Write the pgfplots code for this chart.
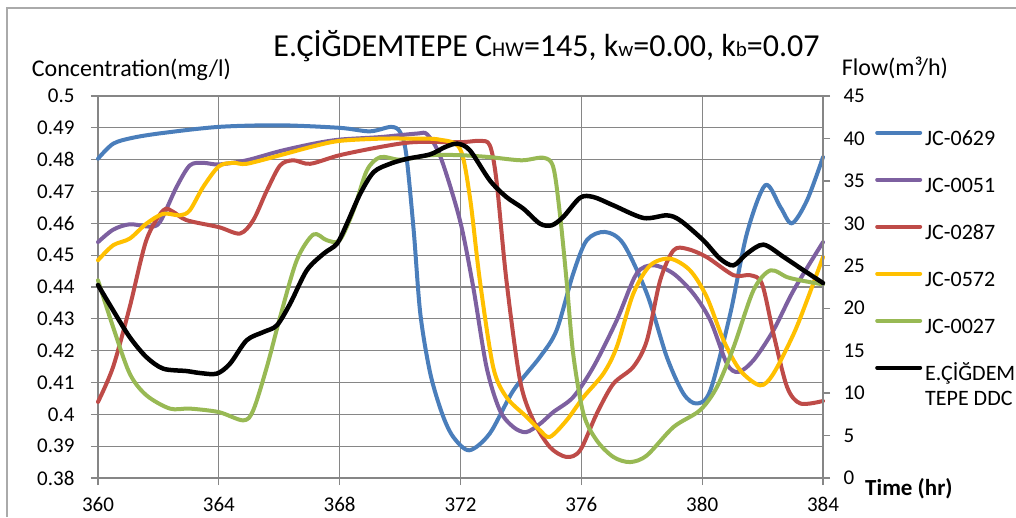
\documentclass[border=0pt]{standalone}
\usepackage{pgfplots}
\pgfplotsset{compat=1.18}
\usepackage{fontspec}
\setmainfont{Carlito}
\definecolor{cBlue}{RGB}{74,126,187}
\definecolor{cPurple}{RGB}{125,96,160}
\definecolor{cRed}{RGB}{190,75,72}
\definecolor{cYellow}{RGB}{255,192,0}
\definecolor{cGreen}{RGB}{152,185,84}
\definecolor{cGrid}{RGB}{134,134,134}
\definecolor{cFrame}{RGB}{170,170,170}
\begin{document}
\begin{tikzpicture}
\useasboundingbox (0pt,0pt) rectangle (1016pt,517pt);
\draw[cFrame, line width=1.2pt] (7pt,0pt) -- (7pt,509pt) -- (1016pt,509pt);
\node[anchor=base, font=\fontsize{32}{32}\selectfont, inner sep=0pt] at (546.5pt,460.3pt)
  {E.ÇİĞDEMTEPE C{\fontsize{21}{21}\selectfont HW}=145, k{\fontsize{21}{21}\selectfont w}=0.00, k{\fontsize{21}{21}\selectfont b}=0.07};
\node[anchor=base west, font=\fontsize{24}{24}\selectfont, inner sep=0pt] at (31.7pt,440pt) {Concentration(mg/l)};
\node[anchor=base west, font=\fontsize{24}{24}\selectfont, inner sep=0pt] at (841.7pt,441pt) {Flow(m³/h)};
\node[anchor=base west, font=\bfseries\fontsize{23}{23}\selectfont, inner sep=0pt] at (865pt,22pt) {Time (hr)};
\begin{axis}[
  at={(98pt,39pt)}, anchor=south west, scale only axis,
  width=725pt, height=382pt,
  xmin=360, xmax=384, ymin=0.38, ymax=0.5,
  xtick={360,364,368,372,376,380,384},
  xticklabels={360,364,368,372,376,380,384},
  ytick={0.38,0.39,0.4,0.41,0.42,0.43,0.44,0.45,0.46,0.47,0.48,0.49,0.5},
  yticklabels={0.38,0.39,0.4,0.41,0.42,0.43,0.44,0.45,0.46,0.47,0.48,0.49,0.5},
  grid=major, grid style={cGrid, line width=1.3pt},
  axis line style={cGrid, line width=1.3pt},
  tick style={cGrid, line width=1.3pt},
  tick align=outside, major tick length=7pt,
  axis y line*=left, axis x line*=bottom,
  tick label style={font=\fontsize{21}{21}\selectfont, text=black},
  yticklabel style={xshift=-13pt},
  xticklabel style={yshift=-9pt},
  clip=false,
  every axis plot/.append style={line width=4pt, smooth, line cap=round, line join=round},
]
\addplot[cBlue] coordinates {(360,0.4803) (360.5,0.485) (361.16,0.4869) (362.16,0.4884) (364,0.4903) (366,0.4908) (368,0.490) (369,0.4889) (369.7,0.4903) (370.0,0.4887) (370.2,0.4819) (370.45,0.4578) (370.67,0.4316) (371.0,0.4128) (371.4,0.400) (371.76,0.3929) (372.29,0.3887) (372.97,0.394) (373.75,0.4075) (374.63,0.418) (375.18,0.4264) (375.73,0.4442) (376.18,0.4547) (376.78,0.4573) (377.39,0.4536) (378.17,0.4379) (378.83,0.418) (379.38,0.4065) (379.82,0.4034) (380.27,0.4075) (380.93,0.4316) (381.48,0.4568) (382.09,0.472) (382.59,0.4651) (382.97,0.460) (383.47,0.4672) (384,0.4808)};
\addplot[cPurple] coordinates {(360,0.4541) (360.5,0.458) (361.05,0.4597) (361.7,0.459) (362.05,0.4604) (362.6,0.4714) (363.04,0.4782) (363.48,0.479) (364,0.4785) (364.92,0.4798) (366.03,0.4827) (367.13,0.485) (368,0.4863) (369.35,0.4871) (370.56,0.4882) (370.9,0.4879) (371.34,0.4808) (371.98,0.461) (372.42,0.44) (372.86,0.4149) (373.3,0.4013) (373.75,0.396) (374.17,0.3944) (374.63,0.397) (375.07,0.4007) (375.73,0.4054) (376.4,0.4149) (377.17,0.4295) (377.83,0.4442) (378.39,0.4468) (379.05,0.4442) (379.71,0.4379) (380.27,0.4295) (380.82,0.4159) (381.2,0.4133) (381.7,0.417) (382.36,0.4264) (383.03,0.439) (384,0.4541)};
\addplot[cRed] coordinates {(360,0.4039) (360.5,0.4149) (361.05,0.4337) (361.6,0.4547) (362.16,0.4641) (362.49,0.4636) (362.93,0.461) (364,0.4588) (364.7,0.4568) (365.14,0.461) (365.59,0.4703) (366.03,0.4782) (366.47,0.4798) (367.02,0.4787) (368,0.4814) (369.35,0.484) (370.45,0.4855) (372,0.4855) (372.64,0.4859) (372.97,0.4845) (373.19,0.4735) (373.52,0.4421) (373.97,0.4107) (374.41,0.3981) (374.96,0.3897) (375.51,0.3866) (375.96,0.3887) (376.51,0.4002) (377.06,0.4096) (377.72,0.4149) (378.17,0.4232) (378.61,0.4421) (379.05,0.4515) (379.49,0.452) (380.15,0.4494) (381.04,0.4437) (381.59,0.4437) (381.98,0.441) (382.36,0.4253) (382.81,0.4086) (383.25,0.4034) (384,0.4042)};
\addplot[cYellow] coordinates {(360,0.4484) (360.5,0.4531) (361.05,0.4552) (361.6,0.4599) (362.16,0.463) (362.71,0.4625) (363.04,0.4641) (363.48,0.4714) (364,0.4779) (364.48,0.479) (364.92,0.4787) (366.03,0.4814) (367.13,0.4842) (368,0.4859) (369.35,0.4866) (370.45,0.4866) (371.3,0.4863) (371.98,0.4835) (372.31,0.4683) (372.64,0.4421) (373.08,0.4149) (373.52,0.4054) (374.19,0.3992) (374.63,0.395) (374.96,0.3929) (375.51,0.3981) (376.07,0.4054) (376.73,0.4128) (377.17,0.4211) (377.72,0.4379) (378.28,0.4468) (378.94,0.4489) (379.6,0.4452) (380.15,0.4369) (380.71,0.4232) (381.26,0.4138) (381.92,0.4091) (382.36,0.4128) (383.03,0.4253) (383.47,0.4358) (384,0.4494)};
\addplot[cGreen] coordinates {(360,0.4421) (360.5,0.4274) (361.05,0.4128) (361.6,0.406) (362.38,0.4018) (363.04,0.4018) (364,0.4007) (364.81,0.3981) (365.14,0.4013) (365.59,0.4149) (366.03,0.4306) (366.58,0.4484) (367.13,0.4565) (367.57,0.4547) (368,0.4547) (368.46,0.4641) (368.9,0.4766) (369.35,0.4808) (370.01,0.48) (371,0.4814) (372,0.4814) (372.97,0.4808) (374.02,0.4798) (374.74,0.4806) (375.07,0.4777) (375.29,0.463) (375.51,0.4421) (375.73,0.419) (376.07,0.4002) (376.51,0.3918) (377.06,0.3866) (377.61,0.385) (378.17,0.3871) (379.05,0.396) (379.93,0.4013) (380.49,0.4086) (381.04,0.4211) (381.7,0.439) (382.25,0.4452) (382.81,0.4431) (383.25,0.4421) (384,0.4408)};
\end{axis}
\begin{axis}[
  at={(98pt,39pt)}, anchor=south west, scale only axis,
  width=725pt, height=382pt,
  xmin=360, xmax=384, ymin=0, ymax=45,
  hide x axis, axis y line*=right,
  ytick={0,5,10,15,20,25,30,35,40,45},
  yticklabels={0,5,10,15,20,25,30,35,40,45},
  axis line style={cGrid, line width=1.3pt},
  tick style={cGrid, line width=1.3pt},
  tick align=outside, major tick length=7pt,
  tick label style={font=\fontsize{21}{21}\selectfont, text=black},
  yticklabel style={xshift=10pt},
  clip=false,
  legend style={at={(1.0717,0.911)}, anchor=north west, draw=none, fill=none,
    font=\fontsize{22}{25}\selectfont, row sep=28pt, column sep=3pt, inner sep=0pt,
    nodes={inner sep=0pt, text height=15pt, text depth=4pt}},
  legend cell align=left,
  legend image code/.code={\draw[#1, line width=4pt, line cap=round] (0pt,7pt) -- (43pt,7pt);},
]
\addlegendimage{cBlue}
\addlegendentry{JC-0629}
\addlegendimage{cPurple}
\addlegendentry{JC-0051}
\addlegendimage{cRed}
\addlegendentry{JC-0287}
\addlegendimage{cYellow}
\addlegendentry{JC-0572}
\addlegendimage{cGreen}
\addlegendentry{JC-0027}
\addplot[black, line width=4.5pt, smooth, line cap=round, line join=round] coordinates {(360,22.74) (360.5,19.75) (361.05,16.6) (361.6,14.25) (362.16,12.88) (362.93,12.6) (363.37,12.37) (363.93,12.29) (364.37,13.47) (364.92,16.22) (365.48,17.2) (365.92,17.98) (366.36,20.54) (366.91,24.46) (367.47,26.43) (367.91,27.6) (368.24,29.96) (368.68,33.49) (369.13,36.05) (369.68,37.03) (370.23,37.6) (371,38.13) (371.5,39.0) (371.9,39.38) (372.31,38.6) (372.97,35.06) (373.52,33.1) (374.08,31.73) (374.63,29.96) (375.02,29.77) (375.4,30.75) (375.96,33.02) (376.4,33.1) (377.06,32.12) (378.06,30.63) (378.83,30.94) (379.27,30.35) (380.04,28.0) (380.59,25.84) (381.04,25.05) (381.48,26.43) (382.03,27.49) (382.7,26.03) (383.36,24.46) (384,22.97)};
\addlegendentry{\vtop{\hbox{E.ÇİĞDEM}\hbox{TEPE DDC}}}
\end{axis}
\end{tikzpicture}
\end{document}
